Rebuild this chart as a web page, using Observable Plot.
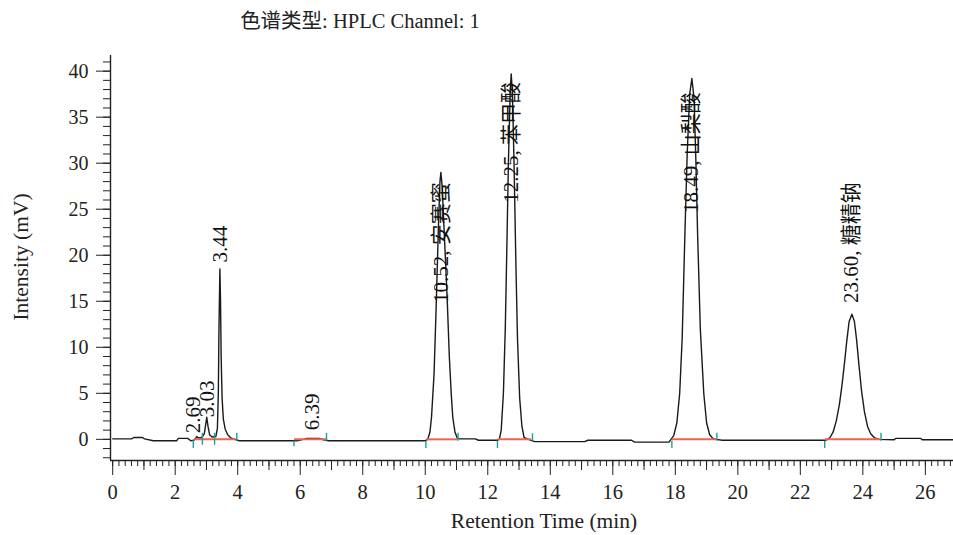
<!DOCTYPE html>
<html>
<head>
<meta charset="utf-8">
<script src="https://cdn.jsdelivr.net/npm/d3@7"></script>
<script src="https://cdn.jsdelivr.net/npm/@observablehq/plot@0.6"></script>
<style>
  html, body { margin: 0; padding: 0; background: #fff; }
  #chart svg { display: block; }
</style>
</head>
<body>
<div id="chart"></div>
<script>
// ---- data ----
const chromatogram = [
  [0, 0.05], [0.6, 0.05], [0.68, 0.2], [0.95, 0.2], [1.02, 0.05], [1.3, -0.15], [2.05, -0.15],
  [2.1, 0.1], [2.4, 0.1], [2.5, -0.15], [2.6, -0.1], [2.66, 0.15], [2.69, 0.3], [2.74, 0.15],
  [2.85, 0.2], [2.93, 0.6], [2.97, 1.5], [3.01, 2.4], [3.05, 1.4], [3.1, 0.5], [3.18, 0.25],
  [3.3, 0.3], [3.35, 1.2], [3.38, 5], [3.40, 12], [3.43, 18.5], [3.45, 15], [3.47, 9],
  [3.50, 4.5], [3.54, 2.2], [3.6, 1.1], [3.68, 0.5], [3.78, 0.15], [3.9, 0.0], [4.05, -0.15],
  [5.9, -0.15], [6.1, 0.0], [6.2, 0.1], [6.6, 0.1], [6.75, -0.05], [6.9, -0.15], [10.0, -0.15],
  [10.08, 0], [10.15, 0.8], [10.20, 2.4], [10.28, 7], [10.35, 14.5], [10.42, 23], [10.47, 28],
  [10.50, 29.0], [10.54, 27.5], [10.60, 23], [10.66, 18.5], [10.71, 14.5], [10.77, 9],
  [10.83, 5], [10.88, 2.4], [10.95, 0.8], [11.03, 0.1], [11.1, 0.05], [11.6, 0.05],
  [11.7, -0.1], [12.3, -0.1],
  [12.37, 0], [12.43, 1], [12.5, 5], [12.56, 12], [12.60, 19], [12.66, 30], [12.72, 38],
  [12.75, 39.7], [12.79, 37.5], [12.84, 30], [12.90, 19], [12.95, 11], [13.02, 4.5],
  [13.09, 1.5], [13.16, 0.2], [13.3, 0], [13.5, -0.25], [15.1, -0.25], [15.2, -0.1],
  [16.6, -0.1], [16.7, -0.3], [17.8, -0.3],
  [17.86, 0], [17.95, 0.4], [18.05, 1.8], [18.14, 5], [18.22, 11], [18.31, 22.7], [18.38, 31],
  [18.46, 37.5], [18.53, 39.2], [18.6, 37], [18.66, 30], [18.71, 22.7], [18.8, 12],
  [18.91, 5], [19.0, 1.8], [19.1, 0.5], [19.2, 0.1], [19.3, 0], [19.5, -0.1], [22.8, -0.1],
  [22.87, 0], [22.95, 0.2], [23.05, 0.8], [23.15, 2], [23.25, 3.8], [23.33, 5.8], [23.40, 7.9],
  [23.48, 10.5], [23.56, 12.8], [23.65, 13.6], [23.73, 12.8], [23.80, 10.8], [23.88, 7.9],
  [23.96, 5.2], [24.05, 3], [24.15, 1.4], [24.25, 0.6], [24.38, 0.15], [24.52, 0],
  [25.0, -0.05], [25.05, 0.1], [25.85, 0.1], [25.9, -0.05], [26.9, -0.05]
];

const peakLabels = ["2.69", "3.03", "3.44", "6.39", "10.52, 安赛蜜", "12.25, 苯甲酸", "18.49, 山梨酸", "23.60, 糖精钠"];
const peakLabelTime = [2.58, 3.01, 3.43, 6.39, 10.50, 12.75, 18.50, 23.62];
const peakLabelBase = [0.65, 2.4, 19.2, 1.0, 14.8, 25.7, 24.6, 14.8];

const baselineStart = [2.62, 5.82, 10.05, 12.33, 17.90, 22.80];
const baselineEnd   = [3.95, 6.85, 11.05, 13.40, 19.32, 24.58];

const markerTime = [2.58, 2.87, 3.26, 3.97, 5.80, 6.84, 10.02, 11.05, 12.31, 13.43, 17.89, 19.33, 22.78, 24.58];
const markerLow  = [-1.0, -0.65, -0.65, -0.2, -0.8, -0.2, -1.0, -0.2, -1.0, -0.2, -1.0, -0.2, -1.0, -0.2];
const markerHigh = [-0.1, 0.65, 0.65, 0.65, -0.2, 0.65, -0.2, 0.65, -0.2, 0.6, -0.2, 0.65, -0.2, 0.65];

const xDomain = [-0.07, 26.9];
const yDomain = [-2.3, 41.7];
const xMajorTicks = d3.range(0, 27, 2);
const xMidTicks = d3.range(1, 27, 2);
const xMinorTicks = d3.range(0, 26.85, 0.2);
const yMajorTicks = d3.range(0, 41, 5);
const yMinorTicks = d3.range(-2, 42, 1);

const titleText = "色谱类型: HPLC Channel: 1";
const xTitle = "Retention Time (min)";
const yTitle = "Intensity (mV)";

// ---- build ----
const FONT = "'Liberation Serif', 'Times New Roman', 'Noto Sans CJK SC', serif";
const traceRows = chromatogram.map(([t, v]) => ({t, v}));
const labelRows = peakLabels.map((s, i) => ({s, t: peakLabelTime[i], y: peakLabelBase[i]}));
const baseRows = baselineStart.map((s, i) => ({x1: s, x2: baselineEnd[i]}));
const markerRows = markerTime.map((t, i) => ({t, lo: markerLow[i], hi: markerHigh[i]}));

const W = 953, H = 535;
const plot = Plot.plot({
  width: W,
  height: H,
  marginLeft: 110,
  marginRight: 0,
  marginTop: 55,
  marginBottom: 75,
  style: {fontFamily: FONT, background: "#fff", color: "#222"},
  x: {domain: xDomain},
  y: {domain: yDomain},
  marks: [
    Plot.axisY({ticks: yMinorTicks, tickSize: 7, text: null, label: null, stroke: "#222"}),
    Plot.axisY({ticks: yMajorTicks, tickSize: 14, tickPadding: 8, fontSize: 20, label: null, stroke: "#222", fill: "#222"}),
    Plot.axisX({ticks: xMinorTicks, tickSize: 6, text: null, label: null, stroke: "#222"}),
    Plot.axisX({ticks: xMidTicks, tickSize: 10, text: null, label: null, stroke: "#222"}),
    Plot.axisX({ticks: xMajorTicks, tickSize: 15, tickPadding: 9, fontSize: 20.5, label: null, stroke: "#222", fill: "#222"}),
    Plot.ruleX([xDomain[0]], {stroke: "#222", strokeWidth: 1.4}),
    Plot.ruleY([yDomain[0]], {stroke: "#222", strokeWidth: 1.4}),
    Plot.line(traceRows, {x: "t", y: "v", stroke: "#1a1a1a", strokeWidth: 1.4}),
    Plot.ruleY(baseRows, {x1: "x1", x2: "x2", y: 0, stroke: "#f0634f", strokeWidth: 2}),
    Plot.ruleX(markerRows, {x: "t", y1: "lo", y2: "hi", stroke: "#19a396", strokeWidth: 1.4}),
    Plot.text(labelRows, {x: "t", y: "y", text: "s", rotate: -90, textAnchor: "start", fontSize: 21, fill: "#111"})
  ]
});

const svg = d3.select(plot);
svg.append("text").attr("x", 360).attr("y", 28).attr("text-anchor", "middle")
  .attr("font-size", 20.5).attr("fill", "#222").style("font-family", FONT).text(titleText);
svg.append("text").attr("x", 544).attr("y", 528).attr("text-anchor", "middle")
  .attr("font-size", 21.5).attr("fill", "#222").style("font-family", FONT).text(xTitle);
svg.append("text").attr("transform", "translate(28,257) rotate(-90)").attr("text-anchor", "middle")
  .attr("font-size", 21.5).attr("fill", "#222").style("font-family", FONT).text(yTitle);

document.getElementById("chart").appendChild(plot);
</script>
</body>
</html>
